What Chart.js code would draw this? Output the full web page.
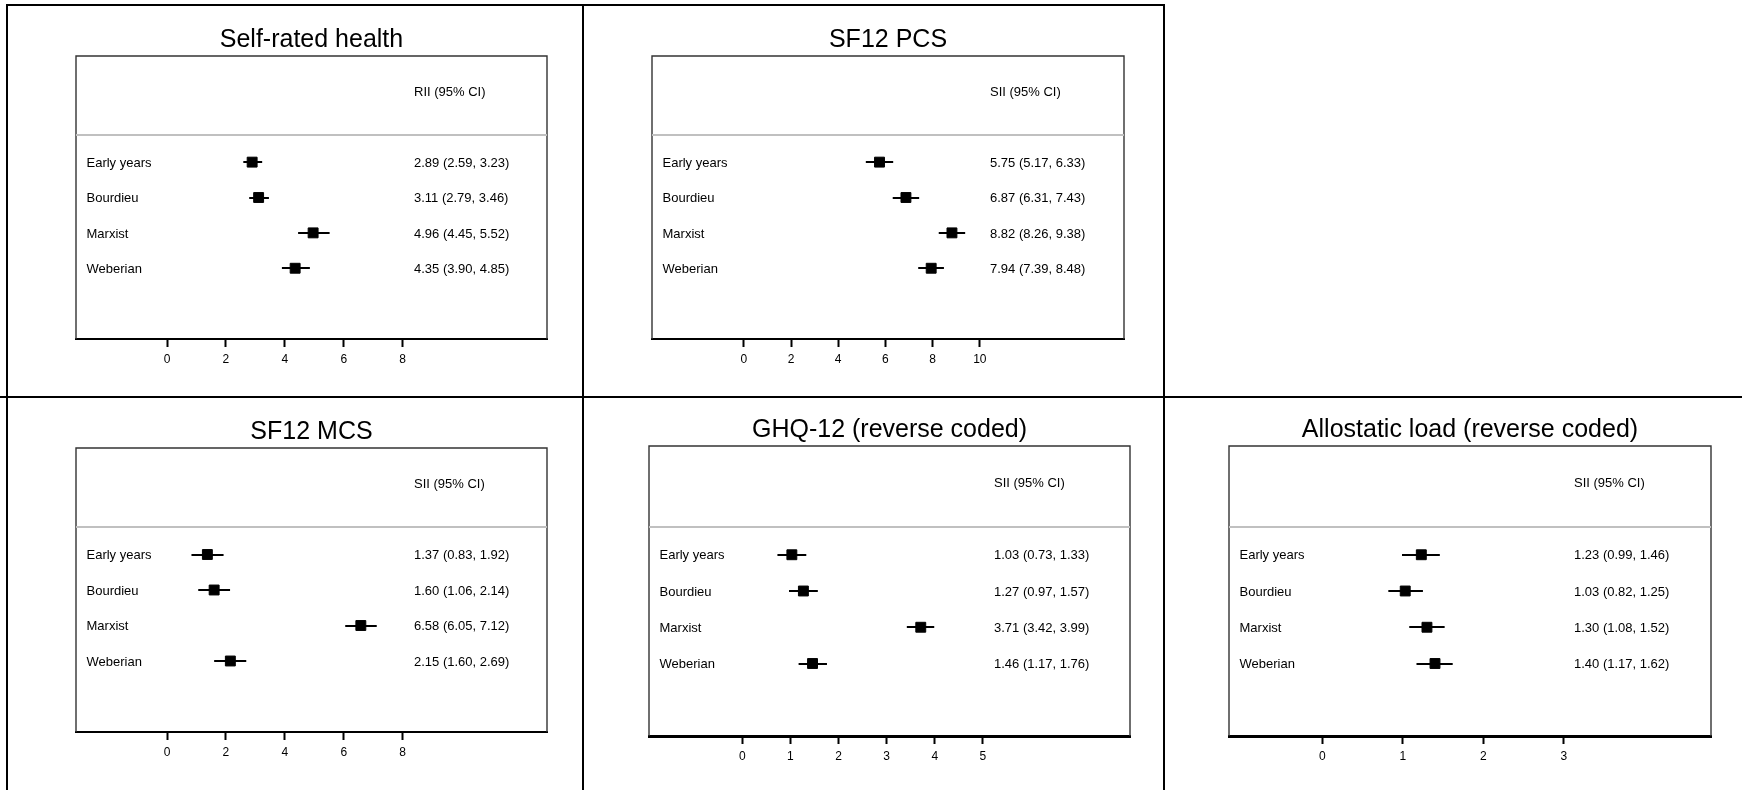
<!DOCTYPE html>
<html lang="en">
<head>
<meta charset="UTF-8">
<title>Forest plots</title>
<script src="https://cdn.jsdelivr.net/npm/chart.js"></script>
<style>
  body { margin: 0; background: #fff; width: 1742px; height: 790px; overflow: hidden; position: relative; }
  .line { position: absolute; background: #000; }
  canvas { position: absolute; }
</style>
</head>
<body>
<div class="line" style="left:6px;top:4px;width:1159px;height:2px"></div>
<div class="line" style="left:6px;top:4px;width:2px;height:786px"></div>
<div class="line" style="left:582px;top:4px;width:2px;height:786px"></div>
<div class="line" style="left:1163px;top:4px;width:2px;height:786px"></div>
<div class="line" style="left:0;top:396px;width:1742px;height:2px"></div>

<canvas id="c0"></canvas>
<canvas id="c1"></canvas>
<canvas id="c2"></canvas>
<canvas id="c3"></canvas>
<canvas id="c4"></canvas>

<script>
// data
const categories = ['Early years', 'Bourdieu', 'Marxist', 'Weberian'];
const titles = ['Self-rated health', 'SF12 PCS', 'SF12 MCS', 'GHQ-12 (reverse coded)', 'Allostatic load (reverse coded)'];
const measures = ['RII (95% CI)', 'SII (95% CI)', 'SII (95% CI)', 'SII (95% CI)', 'SII (95% CI)'];

const srhEst = [2.89, 3.11, 4.96, 4.35];
const srhLo  = [2.59, 2.79, 4.45, 3.90];
const srhHi  = [3.23, 3.46, 5.52, 4.85];

const pcsEst = [5.75, 6.87, 8.82, 7.94];
const pcsLo  = [5.17, 6.31, 8.26, 7.39];
const pcsHi  = [6.33, 7.43, 9.38, 8.48];

const mcsEst = [1.37, 1.60, 6.58, 2.15];
const mcsLo  = [0.83, 1.06, 6.05, 1.60];
const mcsHi  = [1.92, 2.14, 7.12, 2.69];

const ghqEst = [1.03, 1.27, 3.71, 1.46];
const ghqLo  = [0.73, 0.97, 3.42, 1.17];
const ghqHi  = [1.33, 1.57, 3.99, 1.76];

const alEst = [1.23, 1.03, 1.30, 1.40];
const alLo  = [0.99, 0.82, 1.08, 1.17];
const alHi  = [1.46, 1.25, 1.52, 1.62];

const srhTicks = [0, 2, 4, 6, 8];
const pcsTicks = [0, 2, 4, 6, 8, 10];
const mcsTicks = [0, 2, 4, 6, 8];
const ghqTicks = [0, 1, 2, 3, 4, 5];
const alTicks  = [0, 1, 2, 3];

// layout of each panel (plot box in page px, x range, text column offset)
const panels = [
  { est: srhEst, lo: srhLo, hi: srhHi, ticks: srhTicks, box: [76, 56, 547, 339],   xmin: -3.09, xmax: 12.9,  textX: 338, axisW: 2 },
  { est: pcsEst, lo: pcsLo, hi: pcsHi, ticks: pcsTicks, box: [652, 56, 1124, 339], xmin: -3.89, xmax: 16.11, textX: 338, axisW: 2 },
  { est: mcsEst, lo: mcsLo, hi: mcsHi, ticks: mcsTicks, box: [76, 448, 547, 732],  xmin: -3.09, xmax: 12.9,  textX: 338, axisW: 2 },
  { est: ghqEst, lo: ghqLo, hi: ghqHi, ticks: ghqTicks, box: [649, 446, 1130, 736], xmin: -1.94, xmax: 8.06, textX: 345, axisW: 3 },
  { est: alEst,  lo: alLo,  hi: alHi,  ticks: alTicks,  box: [1229, 446, 1711, 736], xmin: -1.16, xmax: 4.83, textX: 345, axisW: 3 }
];

const FONT = '"Liberation Sans", Arial, Helvetica, sans-serif';
const PAD_L = 10, PAD_R = 10, PAD_T = 45, AXIS_H = 40;

function fmt(v) { return v.toFixed(2); }

function forestPlugin(p, idx) {
  return {
    id: 'forest' + idx,
    beforeDatasetsDraw(chart) {
      const ctx = chart.ctx;
      const a = chart.chartArea;
      const x = chart.scales.x, y = chart.scales.y;
      ctx.save();

      // box (bottom edge comes from the x axis border)
      ctx.strokeStyle = '#333';
      ctx.lineWidth = 1.4;
      ctx.beginPath();
      ctx.moveTo(a.left, a.bottom);
      ctx.lineTo(a.left, a.top);
      ctx.lineTo(a.right, a.top);
      ctx.lineTo(a.right, a.bottom);
      ctx.stroke();

      // header separator
      const sy = Math.round(y.getPixelForValue(0.23));
      ctx.strokeStyle = '#c0c0c0';
      ctx.lineWidth = 2;
      ctx.beginPath();
      ctx.moveTo(a.left, sy);
      ctx.lineTo(a.right, sy);
      ctx.stroke();

      // confidence intervals
      ctx.strokeStyle = '#000';
      ctx.lineWidth = 2;
      p.lo.forEach((lo, i) => {
        const py = Math.round(y.getPixelForValue(i + 1));
        ctx.beginPath();
        ctx.moveTo(x.getPixelForValue(lo), py);
        ctx.lineTo(x.getPixelForValue(p.hi[i]), py);
        ctx.stroke();
      });

      // texts, caps centred on the row
      ctx.fillStyle = '#000';
      ctx.textBaseline = 'alphabetic';
      ctx.textAlign = 'left';
      ctx.font = '13px ' + FONT;
      categories.forEach((c, i) => {
        const py = y.getPixelForValue(i + 1) + 4.7;
        ctx.fillText(c, a.left + 10.5, py);
        ctx.fillText(fmt(p.est[i]) + ' (' + fmt(p.lo[i]) + ', ' + fmt(p.hi[i]) + ')', a.left + p.textX, py);
      });
      ctx.fillText(measures[idx], a.left + p.textX, y.getPixelForValue(-1) + 4.7);

      ctx.textAlign = 'center';
      ctx.font = '25px ' + FONT;
      ctx.fillText(titles[idx], (a.left + a.right) / 2, a.top - 9.3);

      ctx.restore();
    }
  };
}

panels.forEach((p, idx) => {
  const [L, T, R, B] = p.box;
  const cv = document.getElementById('c' + idx);
  cv.width = R - L + PAD_L + PAD_R;
  cv.height = B - T + PAD_T + AXIS_H;
  cv.style.left = (L - PAD_L) + 'px';
  cv.style.top = (T - PAD_T) + 'px';

  new Chart(cv, {
    type: 'scatter',
    data: {
      datasets: [{
        data: p.est.map((v, i) => ({ x: v, y: i + 1 })),
        pointStyle: 'rect',
        pointRadius: 7,
        pointHoverRadius: 7,
        borderWidth: 1,
        backgroundColor: '#000',
        borderColor: '#000'
      }]
    },
    options: {
      responsive: false,
      animation: false,
      devicePixelRatio: 1,
      layout: { padding: { left: PAD_L, right: PAD_R, top: PAD_T, bottom: 0 } },
      plugins: { legend: { display: false }, tooltip: { enabled: false } },
      scales: {
        x: {
          type: 'linear',
          min: p.xmin,
          max: p.xmax,
          afterBuildTicks: s => { s.ticks = p.ticks.map(v => ({ value: v })); },
          afterFit: s => { s.height = AXIS_H; },
          grid: { drawOnChartArea: false, drawTicks: true, tickLength: 8, tickWidth: 2, tickColor: '#000' },
          border: { display: true, color: '#000', width: p.axisW },
          ticks: { color: '#000', font: { family: FONT, size: 12 }, padding: 5, autoSkip: false, maxRotation: 0 }
        },
        y: {
          type: 'linear',
          reverse: true,
          min: -2,
          max: 6,
          display: false
        }
      }
    },
    plugins: [forestPlugin(p, idx)]
  });
});
</script>
</body>
</html>
